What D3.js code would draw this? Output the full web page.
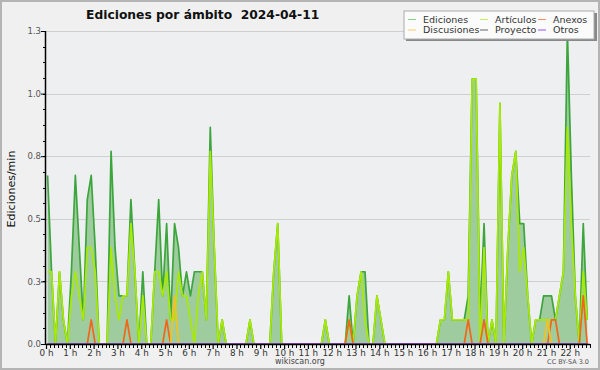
<!DOCTYPE html>
<html><head><meta charset="utf-8">
<script src="https://cdn.jsdelivr.net/npm/d3@7/dist/d3.min.js"></script>
<style>body{margin:0;background:#f0f0f0}svg{display:block}text{font-family:"DejaVu Sans",sans-serif}</style>
</head><body><svg id="c" width="600" height="370"></svg>
<script>
const chartTitle = "Ediciones por ámbito  2024-04-11";
const yTitle = "Ediciones/min";
const yTicks = [0, 0.26, 0.52, 0.78, 1.04, 1.3];
const hourLabels = ["0 h","1 h","2 h","3 h","4 h","5 h","6 h","7 h","8 h","9 h","10 h","11 h","12 h","13 h","14 h","15 h","16 h","17 h","18 h","19 h","20 h","21 h","22 h"];
const seriesNames = ["Ediciones","Artículos","Anexos","Discusiones","Proyecto","Otros"];
// 10-minute bins, starting 00:00
const ediciones = [
0.7,0.3,0,0.3,0.1,0,0.3,0.7,0.4,0.1, 0.6,0.7,0.4,0,0,0,0.8,0.4,0.2,0.2,
0.2,0.6,0.3,0,0.3,0,0,0.3,0.6,0.2, 0.5,0.1,0.5,0.4,0.2,0.3,0.2,0.3,0.3,0.3,
0.1,0.9,0.4,0,0.1,0,0,0,0,0, 0,0.1,0,0,0,0,0,0.3,0.5,0,
0,0,0,0,0,0,0,0,0,0, 0.1,0,0,0,0,0,0.2,0,0.2,0.3,
0.3,0,0,0.2,0.1,0,0,0,0,0, 0,0,0,0,0,0,0,0,0,0.1,
0.1,0.3,0.1,0.1,0.1,0.1,0.2,1.1,1.1,0.1, 0.5,0,0.1,0,1.0,0,0.4,0.7,0.8,0.5,
0.5,0.2,0,0.1,0.1,0.2,0.2,0.2,0.1,0.2, 0.3,1.3,0.7,0.2,0,0.5,0.1];
const articulos = [
0.3,0.3,0,0.3,0.1,0,0.2,0.3,0.2,0.1, 0.4,0.4,0.3,0,0,0,0.4,0.2,0.1,0.2,
0.2,0.5,0.3,0,0.2,0,0,0.3,0.3,0.2, 0.3,0.1,0.1,0.3,0.2,0.2,0.1,0,0.2,0.3,
0.1,0.8,0.4,0,0.1,0,0,0,0,0, 0,0.1,0,0,0,0,0,0.3,0.5,0,
0,0,0,0,0,0,0,0,0,0, 0.1,0,0,0,0,0,0.1,0,0.2,0.3,
0.1,0,0,0.2,0.1,0,0,0,0,0, 0,0,0,0,0,0,0,0,0,0.1,
0.1,0.3,0.1,0.1,0.1,0.1,0.1,1.1,1.1,0, 0.4,0,0.1,0,1.0,0,0.4,0.7,0.8,0.3,
0.4,0.2,0,0.1,0.1,0.1,0.1,0.1,0.1,0.2, 0.3,0.9,0.5,0.2,0,0.3,0.1];
const anexos = [
0,0,0,0,0,0,0,0,0,0, 0,0.1,0,0,0,0,0,0,0,0,
0.1,0,0,0,0,0,0,0,0,0, 0.1,0,0,0,0,0,0,0,0,0,
0,0,0,0,0,0,0,0,0,0, 0,0,0,0,0,0,0,0,0,0,
0,0,0,0,0,0,0,0,0,0, 0,0,0,0,0,0,0.1,0,0,0,
0,0,0,0,0,0,0,0,0,0, 0,0,0,0,0,0,0,0,0,0,
0,0,0,0,0,0,0.1,0,0,0, 0.1,0,0,0,0,0,0,0,0,0,
0,0,0,0,0,0,0,0.1,0.1,0, 0,0,0,0,0,0.2,0];
const discusiones = [
0,0,0,0,0,0,0,0,0,0, 0,0,0,0,0,0,0,0,0,0,
0,0,0,0,0,0,0,0,0,0, 0,0,0.2,0,0,0,0,0,0,0,
0,0,0,0,0,0,0,0,0,0, 0,0,0,0,0,0,0,0,0,0,
0,0,0,0,0,0,0,0,0,0, 0,0,0,0,0,0,0,0,0,0,
0,0,0,0,0,0,0,0,0,0, 0,0,0,0,0,0,0,0,0,0,
0,0,0,0,0,0,0,0,0,0, 0,0,0,0,0,0,0,0,0,0,
0,0,0,0,0,0,0.1,0,0,0, 0,0,0,0,0,0,0];
const proyecto = [
0,0,0,0,0,0,0,0,0,0, 0,0,0,0,0,0,0,0,0,0,
0,0,0,0,0,0,0,0,0,0, 0,0,0,0,0,0,0,0,0,0,
0,0,0,0,0,0,0,0,0,0, 0,0,0,0,0,0,0,0,0,0,
0,0,0,0,0,0,0,0,0,0, 0,0,0,0,0,0,0,0,0,0,
0,0,0,0,0,0,0,0,0,0, 0,0,0,0,0,0,0,0,0,0,
0,0,0,0,0,0,0,0,0,0, 0,0,0,0,0,0,0,0,0,0,
0,0,0,0,0,0,0,0,0,0, 0,0,0,0,0,0,0];
const otros = [
0,0,0,0,0,0,0,0,0,0, 0,0,0,0,0,0,0,0,0,0,
0,0,0,0,0,0,0,0,0,0, 0,0,0,0,0,0,0,0,0,0,
0,0,0,0,0,0,0,0,0,0, 0,0,0,0,0,0,0,0,0,0,
0,0,0,0,0,0,0,0,0,0, 0,0,0,0,0,0,0,0,0,0,
0,0,0,0,0,0,0,0,0,0, 0,0,0,0,0,0,0,0,0,0,
0,0,0,0,0,0,0,0,0,0, 0,0,0,0,0,0,0,0,0,0,
0,0,0,0,0,0,0,0,0,0, 0,0,0,0,0,0,0];

const colors = {Ediciones:"#3ca53c", "Artículos":"#a8ea00", Anexos:"#f0661a", Discusiones:"#f2c21e", Proyecto:"#555555", Otros:"#9a48f0"};
const legendColors = {Ediciones:"#8ccf8c", "Artículos":"#c4ee55", Anexos:"#f59060", Discusiones:"#f5d060", Proyecto:"#666666", Otros:"#9a55f0"};

const svg = d3.select("#c");
const W = 600, H = 370;
const L = 46, R = 590, T = 31, B = 344;

svg.append("rect").attr("x",0).attr("y",0).attr("width",W).attr("height",H).attr("fill","#f0f0f0");
svg.append("rect").attr("x",1).attr("y",1).attr("width",W-2).attr("height",H-2).attr("fill","none").attr("stroke","#b4b4b4").attr("stroke-width",2);
svg.append("rect").attr("x",L).attr("y",T).attr("width",R-L).attr("height",B-T).attr("fill","#edeff1");

const x = d3.scaleLinear().domain([0, 1371]).range([L, R]);
const y = d3.scaleLinear().domain([0, 1.3]).range([B, T]);
const tOf = i => i*10 + 4;

// gridlines
svg.append("g").selectAll("line").data(yTicks.slice(1)).join("line")
  .attr("x1",L).attr("x2",R).attr("y1",d=>Math.round(y(d))+0.5).attr("y2",d=>Math.round(y(d))+0.5)
  .attr("stroke","#cfcfcf").attr("stroke-width",1);

svg.append("clipPath").attr("id","pc").append("rect").attr("x",L).attr("y",0).attr("width",R-L).attr("height",B);
const plot = svg.append("g").attr("clip-path","url(#pc)");

const area = d3.area().x((d,i)=>x(tOf(i))).y0(B).y1(d=>y(d));
plot.append("path").datum(ediciones).attr("d",area).attr("fill","#9fcc9e");

const line = d3.line().x((d,i)=>x(tOf(i))).y(d=>y(d));
const drawOrder = [["Ediciones",ediciones],["Artículos",articulos],["Anexos",anexos],["Discusiones",discusiones],["Proyecto",proyecto],["Otros",otros]];
drawOrder.forEach(([name,vals])=>{
  plot.append("path").datum(vals).attr("d",line).attr("fill","none")
    .attr("stroke",colors[name]).attr("stroke-width",1.7).attr("stroke-linejoin","round");
});

// y axis
const yAxis = d3.axisLeft(y).tickValues(yTicks).tickSize(5).tickFormat(d=>d.toFixed(1));
const yg = svg.append("g").attr("transform",`translate(${L},0)`).call(yAxis);
const yMinor = d3.range(0, 21).map(k=>k*0.065);
svg.append("g").selectAll("line").data(yMinor).join("line")
  .attr("x1",L-3).attr("x2",L).attr("y1",d=>Math.round(y(d))+0.5).attr("y2",d=>Math.round(y(d))+0.5)
  .attr("stroke","#000");
yg.select(".domain").attr("stroke","#000").attr("d",`M-0.5,${T}V${B}`).attr("stroke-width",1.5);
yg.selectAll(".tick line").attr("stroke","#000");
yg.selectAll(".tick text").attr("font-size","8.5px").attr("fill","#555").attr("x",-5).attr("dy","0.32em");

// x axis
const hourTicks = hourLabels.map((s,h)=>h*60);
const xAxis = d3.axisBottom(x).tickValues(hourTicks).tickSize(5).tickFormat((d,i)=>hourLabels[i]);
const xg = svg.append("g").attr("transform",`translate(0,${B})`).call(xAxis);
xg.select(".domain").attr("stroke","#000").attr("d",`M${L},0.5H${R}`).attr("stroke-width",1.5);
xg.selectAll(".tick line").attr("stroke","#000").attr("stroke-width",1.2);
xg.selectAll(".tick text").attr("font-size","8.8px").attr("fill","#333").attr("y",6);
const xMinor = d3.range(0, 138).map(k=>k*10).filter(m=>m%60!==0 && x(m)<=R);
svg.append("g").selectAll("line").data(xMinor).join("line")
  .attr("x1",d=>Math.round(x(d))+0.5).attr("x2",d=>Math.round(x(d))+0.5).attr("y1",B).attr("y2",B+4)
  .attr("stroke","#000").attr("stroke-width",1);

// titles
svg.append("text").attr("x",86).attr("y",19).attr("font-size","12.3px").attr("font-weight","bold")
  .attr("fill","#111").attr("xml:space","preserve").style("white-space","pre").text(chartTitle);
svg.append("text").attr("transform","translate(15,189) rotate(-90)").attr("text-anchor","middle")
  .attr("font-family","DejaVu Sans Mono").attr("font-size","11px").attr("fill","#111").text(yTitle);
svg.append("text").attr("x",300).attr("y",364).attr("text-anchor","middle").attr("font-size","8px").attr("fill","#444").text("wikiscan.org");
svg.append("text").attr("x",589).attr("y",364).attr("text-anchor","end").attr("font-size","6.5px").attr("fill","#555").text("CC BY-SA 3.0");

// legend
const lg = svg.append("g");
lg.append("rect").attr("x",406).attr("y",13).attr("width",191).attr("height",28).attr("fill","#888");
lg.append("rect").attr("x",404).attr("y",11).attr("width",190).attr("height",28).attr("fill","#fbfbfb").attr("stroke","#aaa").attr("stroke-width",1);
const colX = [408, 480, 538];
const rowY = [19.5, 30];
const legendLayout = [["Ediciones",0,0],["Artículos",1,0],["Anexos",2,0],["Discusiones",0,1],["Proyecto",1,1],["Otros",2,1]];
legendLayout.forEach(([name,c,r])=>{
  lg.append("line").attr("x1",colX[c]).attr("x2",colX[c]+8).attr("y1",rowY[r]).attr("y2",rowY[r]).attr("stroke",legendColors[name]).attr("stroke-width",1);
  lg.append("text").attr("x",colX[c]+15).attr("y",rowY[r]).attr("dy","0.35em").attr("font-size","9.5px").attr("fill","#333").text(name);
});
</script></body></html>
